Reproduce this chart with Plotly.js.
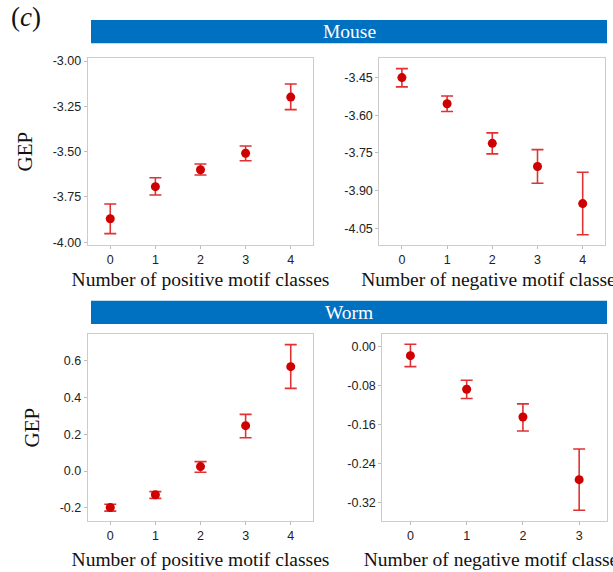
<!DOCTYPE html>
<html>
<head>
<meta charset="utf-8">
<script src="https://cdn.plot.ly/plotly-3.0.1.min.js"></script>
<style>
  html, body { margin: 0; padding: 0; background: #fff; }
  #chart { width: 613px; height: 572px; }
</style>
</head>
<body>
<div id="chart"></div>
<script>
// Mean GEP with confidence interval per number of motif classes
const classesFive = [0, 1, 2, 3, 4];
const classesFour = [0, 1, 2, 3];

// Mouse, positive motif classes
const mousePosMean = [-3.870, -3.693, -3.600, -3.509, -3.199];
const mousePosHigh = [-3.789, -3.644, -3.568, -3.469, -3.127];
const mousePosLow  = [-3.952, -3.739, -3.629, -3.550, -3.268];

// Mouse, negative motif classes
const mouseNegMean = [-3.450, -3.554, -3.712, -3.804, -3.952];
const mouseNegHigh = [-3.414, -3.523, -3.670, -3.737, -3.827];
const mouseNegLow  = [-3.487, -3.585, -3.754, -3.871, -4.076];

// Worm, positive motif classes
const wormPosMean = [-0.198, -0.129, 0.024, 0.247, 0.568];
const wormPosHigh = [-0.181, -0.112, 0.051, 0.308, 0.688];
const wormPosLow  = [-0.218, -0.149, -0.007, 0.181, 0.450];

// Worm, negative motif classes
const wormNegMean = [-0.018, -0.087, -0.144, -0.273];
const wormNegHigh = [0.0055, -0.0685, -0.117, -0.210];
const wormNegLow  = [-0.0404, -0.106, -0.173, -0.336];

// Tick values
const mousePosTicks = [-3.00, -3.25, -3.50, -3.75, -4.00];
const mouseNegTicks = [-3.45, -3.60, -3.75, -3.90, -4.05];
const wormPosTicks  = [0.6, 0.4, 0.2, 0.0, -0.2];
const wormNegTicks  = [0.00, -0.08, -0.16, -0.24, -0.32];

const speciesLabels = ['Mouse', 'Worm'];
const xTitlePos = 'Number of positive motif classes';
const xTitleNeg = 'Number of negative motif classes';
const yTitle = 'GEP';

const W = 613, H = 572;
const px = v => v / W;
const py = v => 1 - v / H;

const pointColor = 'rgb(206,0,0)';
const barColor = 'rgb(224,50,50)';
const serif = 'Liberation Serif, Times New Roman, serif';
const sans = 'Liberation Sans, Arial, sans-serif';

function series(x, mean, high, low, xa, ya) {
  return {
    type: 'scatter', mode: 'markers', x: x, y: mean, xaxis: xa, yaxis: ya,
    marker: { color: pointColor, size: 9 },
    error_y: {
      type: 'data', symmetric: false,
      array: high.map((h, i) => h - mean[i]),
      arrayminus: low.map((l, i) => mean[i] - l),
      color: barColor, thickness: 1.6, width: 6
    },
    hoverinfo: 'x+y', showlegend: false
  };
}

const traces = [
  series(classesFive, mousePosMean, mousePosHigh, mousePosLow, 'x', 'y'),
  series(classesFive, mouseNegMean, mouseNegHigh, mouseNegLow, 'x2', 'y2'),
  series(classesFive, wormPosMean, wormPosHigh, wormPosLow, 'x3', 'y3'),
  series(classesFour, wormNegMean, wormNegHigh, wormNegLow, 'x4', 'y4')
];

function xAxis(domain, cats, title, anchor, standoff) {
  return {
    domain: domain, anchor: anchor,
    range: [-0.5, cats.length - 0.5],
    tickvals: cats, ticktext: cats.map(String),
    showgrid: false, zeroline: false,
    showline: true, mirror: true, linecolor: '#cccccc', linewidth: 1,
    ticks: 'outside', ticklen: 3, tickcolor: '#bbbbbb',
    tickfont: { family: sans, size: 12.5, color: '#222' },
    title: { text: title, font: { family: serif, size: 19.5, color: '#111' }, standoff: standoff }
  };
}

function yAxis(domain, range, ticks, digits, title, anchor) {
  return {
    domain: domain, anchor: anchor, range: range,
    tickvals: ticks, ticktext: ticks.map(t => t.toFixed(digits)),
    showgrid: false, zeroline: false,
    showline: true, mirror: true, linecolor: '#cccccc', linewidth: 1,
    ticks: 'outside', ticklen: 3, tickcolor: '#bbbbbb',
    tickfont: { family: sans, size: 12.5, color: '#222' },
    title: { text: title, font: { family: serif, size: 21, color: '#111' }, standoff: 14 }
  };
}

const leftX = [px(87.7), px(313.3)];
const rightXTop = [px(379.3), px(605.3)];
const rightXBot = [px(382.3), px(607.3)];
const topY = [py(245), py(58.3)];
const botY = [py(521), py(334.3)];

const layout = {
  width: W, height: H,
  margin: { l: 0, r: 0, t: 0, b: 0 },
  paper_bgcolor: '#ffffff', plot_bgcolor: '#ffffff',
  showlegend: false,
  xaxis:  xAxis(leftX, classesFive, xTitlePos, 'y', 6),
  yaxis:  yAxis(topY, [-4.015, -2.985], mousePosTicks, 2, yTitle, 'x'),
  xaxis2: xAxis(rightXTop, classesFive, xTitleNeg, 'y2', 6),
  yaxis2: yAxis(topY, [-4.117, -3.373], mouseNegTicks, 2, '', 'x2'),
  xaxis3: xAxis(leftX, classesFive, xTitlePos, 'y3', 10),
  yaxis3: yAxis(botY, [-0.272, 0.744], wormPosTicks, 1, yTitle, 'x3'),
  xaxis4: xAxis(rightXBot, classesFour, xTitleNeg, 'y4', 10),
  yaxis4: yAxis(botY, [-0.358, 0.026], wormNegTicks, 2, '', 'x4'),
  shapes: [
    { type: 'rect', xref: 'paper', yref: 'paper', x0: px(91), x1: px(607), y0: py(43.3), y1: py(20),
      fillcolor: '#0070c0', line: { width: 0 }, layer: 'below' },
    { type: 'rect', xref: 'paper', yref: 'paper', x0: px(91), x1: px(607), y0: py(324), y1: py(300.7),
      fillcolor: '#0070c0', line: { width: 0 }, layer: 'below' }
  ],
  annotations: [
    { xref: 'paper', yref: 'paper', x: px(349), y: py(31.7), text: speciesLabels[0], showarrow: false,
      xanchor: 'center', yanchor: 'middle', font: { family: serif, size: 19.5, color: '#ffffff' } },
    { xref: 'paper', yref: 'paper', x: px(349), y: py(312.3), text: speciesLabels[1], showarrow: false,
      xanchor: 'center', yanchor: 'middle', font: { family: serif, size: 19.5, color: '#ffffff' } },
    { xref: 'paper', yref: 'paper', x: px(9), y: py(0), text: '(<i>c</i>)', showarrow: false,
      xanchor: 'left', yanchor: 'top', font: { family: serif, size: 27, color: '#111' } }
  ]
};

Plotly.newPlot('chart', traces, layout, { displayModeBar: false, staticPlot: true });
</script>
</body>
</html>
